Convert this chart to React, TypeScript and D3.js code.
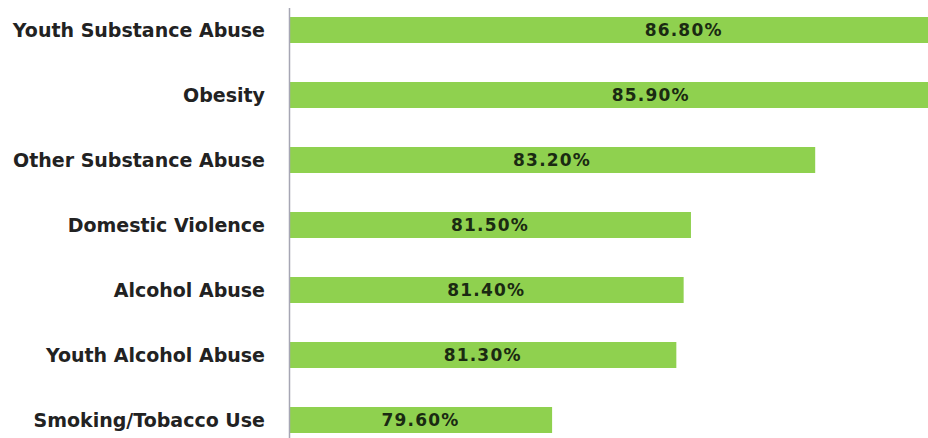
import React from "react";
import * as d3 from "d3";

const categories = [
  "Youth Substance Abuse",
  "Obesity",
  "Other Substance Abuse",
  "Domestic Violence",
  "Alcohol Abuse",
  "Youth Alcohol Abuse",
  "Smoking/Tobacco Use",
];
const values = [86.8, 85.9, 83.2, 81.5, 81.4, 81.3, 79.6];
const valueLabels = ["86.80%", "85.90%", "83.20%", "81.50%", "81.40%", "81.30%", "79.60%"];
const xDomain = [76, 88];

const W = 928;
const H = 438;

export default function App() {
  const x = d3.scaleLinear().domain(xDomain).range([289, 1166]);
  const y = d3
    .scaleBand<string>()
    .domain(categories)
    .range([-2.5, 452.5])
    .paddingInner(0.6)
    .paddingOuter(0.3);
  const x0 = x(xDomain[0]);
  return (
    <svg
      width={W}
      height={H}
      viewBox={`0 0 ${W} ${H}`}
      style={{ position: "absolute", left: 0, top: 0, background: "#fff" }}
    >
      <defs>
        <clipPath id="plot">
          <rect x={0} y={0} width={W} height={H} />
        </clipPath>
      </defs>
      <g clipPath="url(#plot)">
        {categories.map((c, i) => (
          <rect
            key={c}
            x={x0}
            y={y(c)}
            width={x(values[i]) - x0}
            height={y.bandwidth()}
            fill="#8fd14f"
          />
        ))}
        {categories.map((c, i) => (
          <text
            key={"v" + c}
            x={(x0 + x(values[i])) / 2}
            y={(y(c) as number) + y.bandwidth() / 2}
            dy="0.36em"
            textAnchor="middle"
            fontFamily="'DejaVu Sans', sans-serif"
            fontWeight="bold"
            fontSize={17}
            letterSpacing={1.2}
            fill="#1a2a12"
          >
            {valueLabels[i]}
          </text>
        ))}
      </g>
      <line x1={289.5} x2={289.5} y1={8} y2={H} stroke="#a6a6b4" strokeWidth={1.5} />
      {categories.map((c) => (
        <text
          key={"l" + c}
          x={265}
          y={(y(c) as number) + y.bandwidth() / 2}
          dy="0.36em"
          textAnchor="end"
          fontFamily="'DejaVu Sans', sans-serif"
          fontWeight="bold"
          fontSize={19}
          fill="#222222"
        >
          {c}
        </text>
      ))}
    </svg>
  );
}
